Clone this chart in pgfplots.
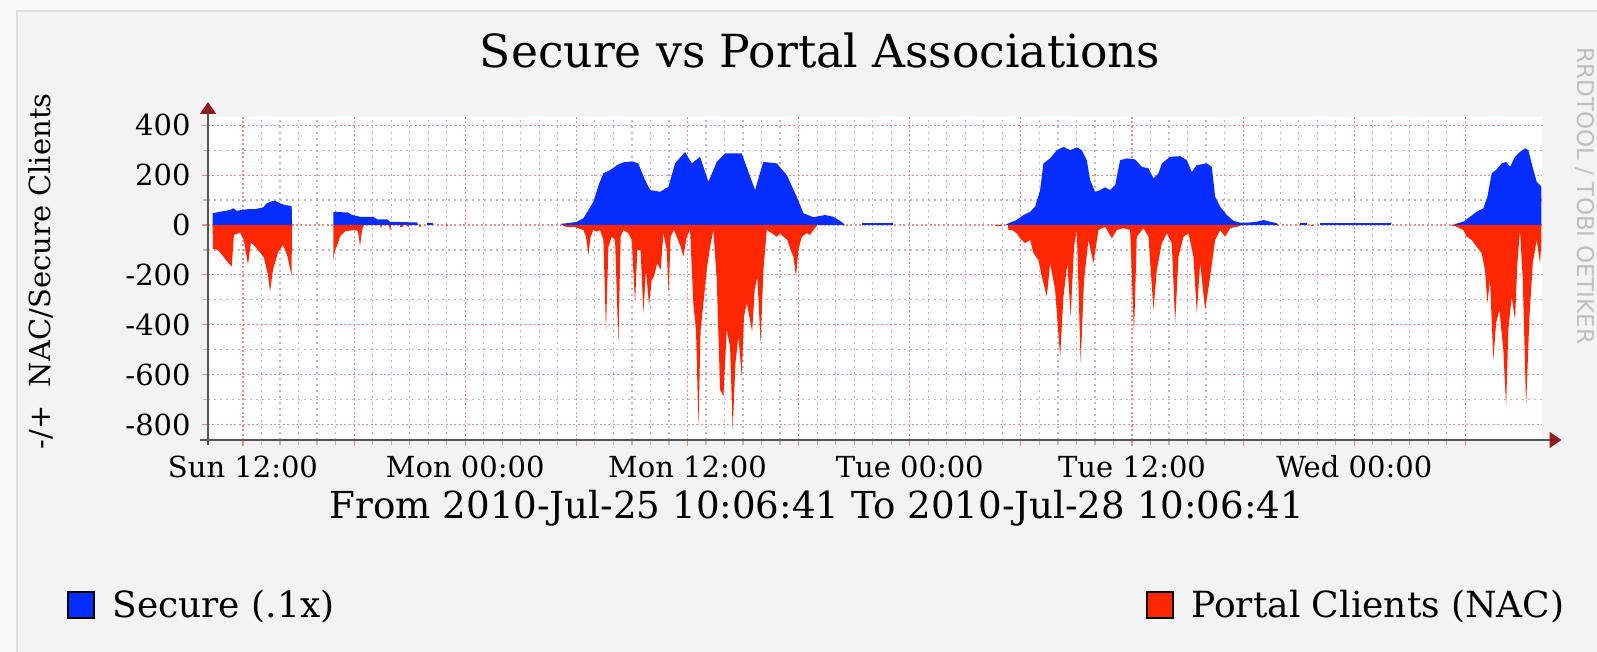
\documentclass[border=0pt]{standalone}
\usepackage{fontspec}
\setmainfont{DejaVu Serif}
\newfontfamily\wmfont{DejaVu Sans}
\usepackage{pgfplots}
\pgfplotsset{compat=1.18}
\usetikzlibrary{arrows.meta}
\definecolor{secblue}{RGB}{5,45,255}
\definecolor{nacred}{RGB}{255,38,0}
\definecolor{canvas}{RGB}{243,243,243}
\definecolor{outer}{RGB}{248,248,248}
\definecolor{gridred}{RGB}{238,140,140}
\definecolor{gridgray}{RGB}{185,185,185}
\definecolor{axisgray}{RGB}{85,85,85}
\definecolor{arrowred}{RGB}{140,30,30}
\begin{document}
\begin{tikzpicture}
\fill[outer] (0,0) rectangle (798.5pt,326pt);
\useasboundingbox (0,0) rectangle (798.5pt,326pt);
\fill[canvas] (8.5pt,0) rectangle (798.5pt,320.5pt);
\draw[line width=1.2pt, color=black!12] (8.5pt,0) -- (8.5pt,320.5pt) -- (798.5pt,320.5pt);
\node[rotate=-90, font=\wmfont\fontsize{11.5}{12}\selectfont, text=black!25, inner sep=0pt] at (792.5pt,228pt) {RRDTOOL / TOBI OETIKER};
\begin{axis}[
  at={(104pt,106pt)}, anchor=south west,
  scale only axis, width=666.75pt, height=161.5pt,
  xmin=10.111, xmax=82.111, ymin=-862, ymax=433,
  axis background/.style={fill=white},
  axis lines=left,
  axis line style={draw=axisgray, line width=0.9pt},
  x axis line style={-{Triangle[length=6pt,width=8pt,color=arrowred]}, shorten >=-10pt, shorten <=-4pt},
  y axis line style={-{Triangle[length=6pt,width=8pt,color=arrowred]}, shorten >=-7.5pt, shorten <=-2.5pt},
  xtick={12,18,...,78},
  xticklabels={Sun 12:00,{},Mon 00:00,{},Mon 12:00,{},Tue 00:00,{},Tue 12:00,{},Wed 00:00,{}},
  minor x tick num=5,
  ytick={-800,-600,-400,-200,0,200,400},
  yticklabels={-800,-600,-400,-200,0,200,400},
  minor y tick num=1,
  grid=both,
  major grid style={draw=gridred, line width=0.6pt, dash pattern=on 1pt off 1.2pt},
  minor grid style={draw=gridgray, line width=0.6pt, dash pattern=on 0.8pt off 2.2pt},
  tick align=outside,
  major tick length=3pt, minor tick length=2.5pt,
  every major tick/.append style={draw=gridred, line width=0.6pt},
  every minor tick/.append style={draw=gridgray, line width=0.6pt},
  /pgf/number format/assume math mode=true,
  tick label style={font=\fontsize{14.5}{16}\selectfont, inner sep=0pt},
  x tick label style={anchor=base, yshift=-16pt},
  y tick label style={anchor=east, xshift=-5.5pt},
  title={Secure vs Portal Associations},
  title style={at={(axis description cs:0.459,1.1176)}, anchor=base, font=\fontsize{22.8}{26}\selectfont, inner sep=0pt},
  xlabel={From 2010-Jul-25 10:06:41 To 2010-Jul-28 10:06:41},
  xlabel style={at={(axis description cs:0.4567,-0.2446)}, anchor=base, font=\fontsize{18.6}{22}\selectfont, inner sep=0pt},
  ylabel={-/+\ \ NAC/Secure Clients},
  ylabel style={at={(axis description cs:-0.1252,0.522)}, anchor=center, font=\fontsize{14.5}{16}\selectfont, inner sep=0pt},
  legend columns=2,
  legend image code/.code={\draw[#1, draw=black, line width=1pt] (0pt,-6.5pt) rectangle (13pt,6.5pt);},
  legend style={at={(axis description cs:-0.1057,-0.5124)}, anchor=west, draw=none, fill=none, inner sep=0pt,
    font=\fontsize{18}{21}\selectfont, nodes={inner sep=0pt},
    /tikz/every odd column/.append style={column sep=8.5pt},
    /tikz/every even column/.append style={column sep=406pt}},
]
% ---- Secure (.1x), positive ----
\addplot[fill=secblue, draw=none] coordinates {(10.36,0)(10.36,47)(10.76,53)(11.30,60)(11.48,67)(11.66,57)(12.20,63)(12.70,64)(13.10,71)(13.28,87)(13.55,95)(13.73,97)(14.00,87)(14.27,80)(14.63,76)(14.65,0)};
\addlegendentry{Secure (.1x)}
\addplot[fill=nacred, draw=none] coordinates {(10.36,0)(10.38,-95)(10.65,-100)(10.87,-120)(11.08,-140)(11.39,-167)(11.51,-40)(11.84,-30)(12.05,-60)(12.27,-160)(12.43,-70)(12.70,-90)(12.92,-110)(13.13,-130)(13.35,-200)(13.46,-267)(13.62,-180)(13.89,-110)(14.16,-80)(14.38,-120)(14.62,-200)(14.65,0)};
\addlegendentry{Portal Clients (NAC)}
\addplot[fill=secblue, draw=none, forget plot] coordinates {(16.88,0)(16.88,53)(17.67,50)(17.89,40)(18.32,33)(19.02,33)(19.24,23)(19.78,23)(19.94,13)(21.40,10)(21.47,0)};
\addplot[fill=secblue, draw=none, forget plot] coordinates {(21.94,0)(21.94,8)(22.26,8)(22.26,0)};
\addplot[fill=secblue, draw=none, forget plot] coordinates {(29.20,0)(29.20,5)(29.60,8)(30.00,12)(30.38,27)(30.65,60)(30.92,93)(31.20,160)(31.46,207)(31.82,220)(32.20,240)(32.53,251)(33.00,255)(33.34,247)(33.71,180)(33.98,140)(34.52,133)(34.97,153)(35.33,247)(35.87,293)(36.23,247)(36.68,273)(37.13,173)(37.58,253)(38.03,287)(38.93,287)(39.29,213)(39.65,140)(40.09,253)(40.82,247)(41.36,200)(41.90,113)(42.26,47)(42.80,31)(43.43,40)(43.87,33)(44.23,17)(44.41,7)(44.50,0)};
\addplot[fill=secblue, draw=none, forget plot] coordinates {(45.40,0)(45.40,6)(47.10,6)(47.10,0)};
\addplot[fill=secblue, draw=none, forget plot] coordinates {(53.20,0)(53.24,4)(53.78,20)(54.14,40)(54.50,53)(54.77,73)(55.04,140)(55.22,247)(55.58,267)(55.94,300)(56.30,313)(56.66,300)(57.02,311)(57.29,300)(57.56,260)(57.74,180)(58.01,133)(58.28,140)(58.55,151)(58.82,140)(59.09,160)(59.36,260)(59.72,267)(60.17,263)(60.53,233)(60.89,227)(61.16,187)(61.43,207)(61.61,247)(62.06,273)(62.60,276)(62.96,260)(63.23,213)(63.50,240)(64.04,247)(64.31,233)(64.49,113)(64.76,73)(65.12,40)(65.48,17)(65.84,9)(66.20,9)(66.74,13)(67.10,20)(67.46,13)(67.82,7)(67.90,0)};
\addplot[fill=secblue, draw=none, forget plot] coordinates {(69.07,0)(69.07,6)(69.45,6)(69.45,0)};
\addplot[fill=secblue, draw=none, forget plot] coordinates {(70.15,0)(70.15,6)(73.99,6)(73.99,0)};
\addplot[fill=secblue, draw=none, forget plot] coordinates {(77.40,0)(77.44,4)(77.89,13)(78.25,33)(78.61,53)(78.97,67)(79.19,113)(79.42,207)(79.69,223)(79.96,247)(80.20,253)(80.41,233)(80.68,273)(80.95,293)(81.22,307)(81.40,300)(81.58,247)(81.85,173)(82.03,160)(82.11,153)(82.11,0)};
% ---- Portal Clients (NAC), negative ----
\addplot[fill=nacred, draw=none, forget plot] coordinates {(16.88,0)(16.88,-140)(16.97,-100)(17.13,-75)(17.24,-45)(17.51,-25)(18.05,-20)(18.21,-25)(18.32,-85)(18.43,-20)(18.53,0)};
\addplot[fill=nacred, draw=none, forget plot] coordinates {(19.40,0)(19.46,-13)(19.52,0)};
\addplot[fill=nacred, draw=none, forget plot] coordinates {(19.88,0)(19.94,-27)(20.00,0)};
\addplot[fill=nacred, draw=none, forget plot] coordinates {(20.48,0)(20.48,-10)(20.64,-10)(20.64,0)};
\addplot[fill=nacred, draw=none, forget plot] coordinates {(20.85,0)(20.91,-10)(20.97,0)};
\addplot[fill=nacred, draw=none, forget plot] coordinates {(21.50,0)(21.56,-13)(21.62,0)};
\addplot[fill=nacred, draw=none, forget plot] coordinates {(22.95,0)(23.00,-7)(23.05,0)};
\addplot[fill=nacred, draw=none, forget plot] coordinates {(29.25,0)(29.30,-4)(29.57,-9)(29.84,-7)(30.11,-13)(30.38,-20)(30.52,-47)(30.65,-120)(30.77,-47)(30.92,-20)(31.10,-27)(31.28,-20)(31.46,-60)(31.60,-420)(31.73,-87)(31.91,-47)(32.09,-60)(32.27,-473)(32.39,-47)(32.54,-20)(32.81,-33)(32.99,-60)(33.17,-313)(33.29,-100)(33.47,-100)(33.62,-353)(33.76,-180)(33.92,-320)(34.07,-220)(34.19,-207)(34.37,-153)(34.55,-180)(34.70,-33)(34.88,-100)(34.98,-273)(35.09,-47)(35.27,-20)(35.42,-47)(35.63,-87)(35.78,-127)(35.96,-47)(36.14,-20)(36.32,-320)(36.46,-420)(36.59,-807)(36.71,-420)(36.86,-313)(37.04,-180)(37.22,-87)(37.40,-20)(37.58,-220)(37.76,-660)(37.94,-687)(38.12,-420)(38.30,-487)(38.44,-820)(38.59,-553)(38.75,-447)(38.93,-607)(39.05,-367)(39.20,-313)(39.34,-367)(39.49,-427)(39.63,-260)(39.77,-207)(39.95,-473)(40.10,-180)(40.28,-20)(40.55,-33)(40.82,-47)(41.00,-33)(41.18,-47)(41.39,-60)(41.57,-100)(41.72,-127)(41.86,-207)(41.99,-100)(42.17,-47)(42.44,-33)(42.62,-40)(42.80,-20)(42.98,-4)(43.00,0)};
\addplot[fill=nacred, draw=none, forget plot] coordinates {(52.60,0)(52.60,-5)(53.00,-5)(53.00,0)};
\addplot[fill=nacred, draw=none, forget plot] coordinates {(53.30,0)(53.33,-20)(53.51,-20)(53.78,-33)(53.96,-53)(54.23,-73)(54.50,-60)(54.68,-113)(54.95,-140)(55.13,-207)(55.40,-287)(55.58,-153)(55.85,-260)(56.12,-527)(56.30,-287)(56.51,-153)(56.69,-367)(56.87,-87)(57.02,-20)(57.23,-553)(57.41,-220)(57.65,-60)(57.92,-153)(58.19,-20)(58.55,-7)(58.91,-53)(59.18,-20)(59.54,-13)(59.90,-20)(60.11,-433)(60.26,-47)(60.62,-13)(60.89,-47)(61.16,-340)(61.34,-180)(61.61,-73)(61.88,-33)(62.15,-73)(62.33,-393)(62.51,-127)(62.78,-47)(63.05,-33)(63.32,-127)(63.50,-353)(63.68,-153)(63.95,-340)(64.22,-207)(64.49,-60)(64.76,-20)(65.03,-47)(65.30,-13)(65.66,-7)(65.84,-4)(65.90,0)};
\addplot[fill=nacred, draw=none, forget plot] coordinates {(69.68,0)(69.68,-5)(69.80,-5)(69.80,0)};
\addplot[fill=nacred, draw=none, forget plot] coordinates {(77.26,0)(77.26,-4)(77.44,-4)(77.89,-20)(78.07,-47)(78.34,-60)(78.61,-87)(78.88,-113)(79.06,-180)(79.19,-313)(79.33,-220)(79.51,-540)(79.66,-393)(79.84,-340)(80.05,-500)(80.20,-727)(80.32,-420)(80.50,-287)(80.68,-380)(80.81,-153)(80.95,-20)(81.10,-220)(81.28,-727)(81.46,-367)(81.64,-153)(81.85,-60)(82.03,-153)(82.11,-60)(82.11,0)};
\end{axis}
\end{tikzpicture}
\end{document}
